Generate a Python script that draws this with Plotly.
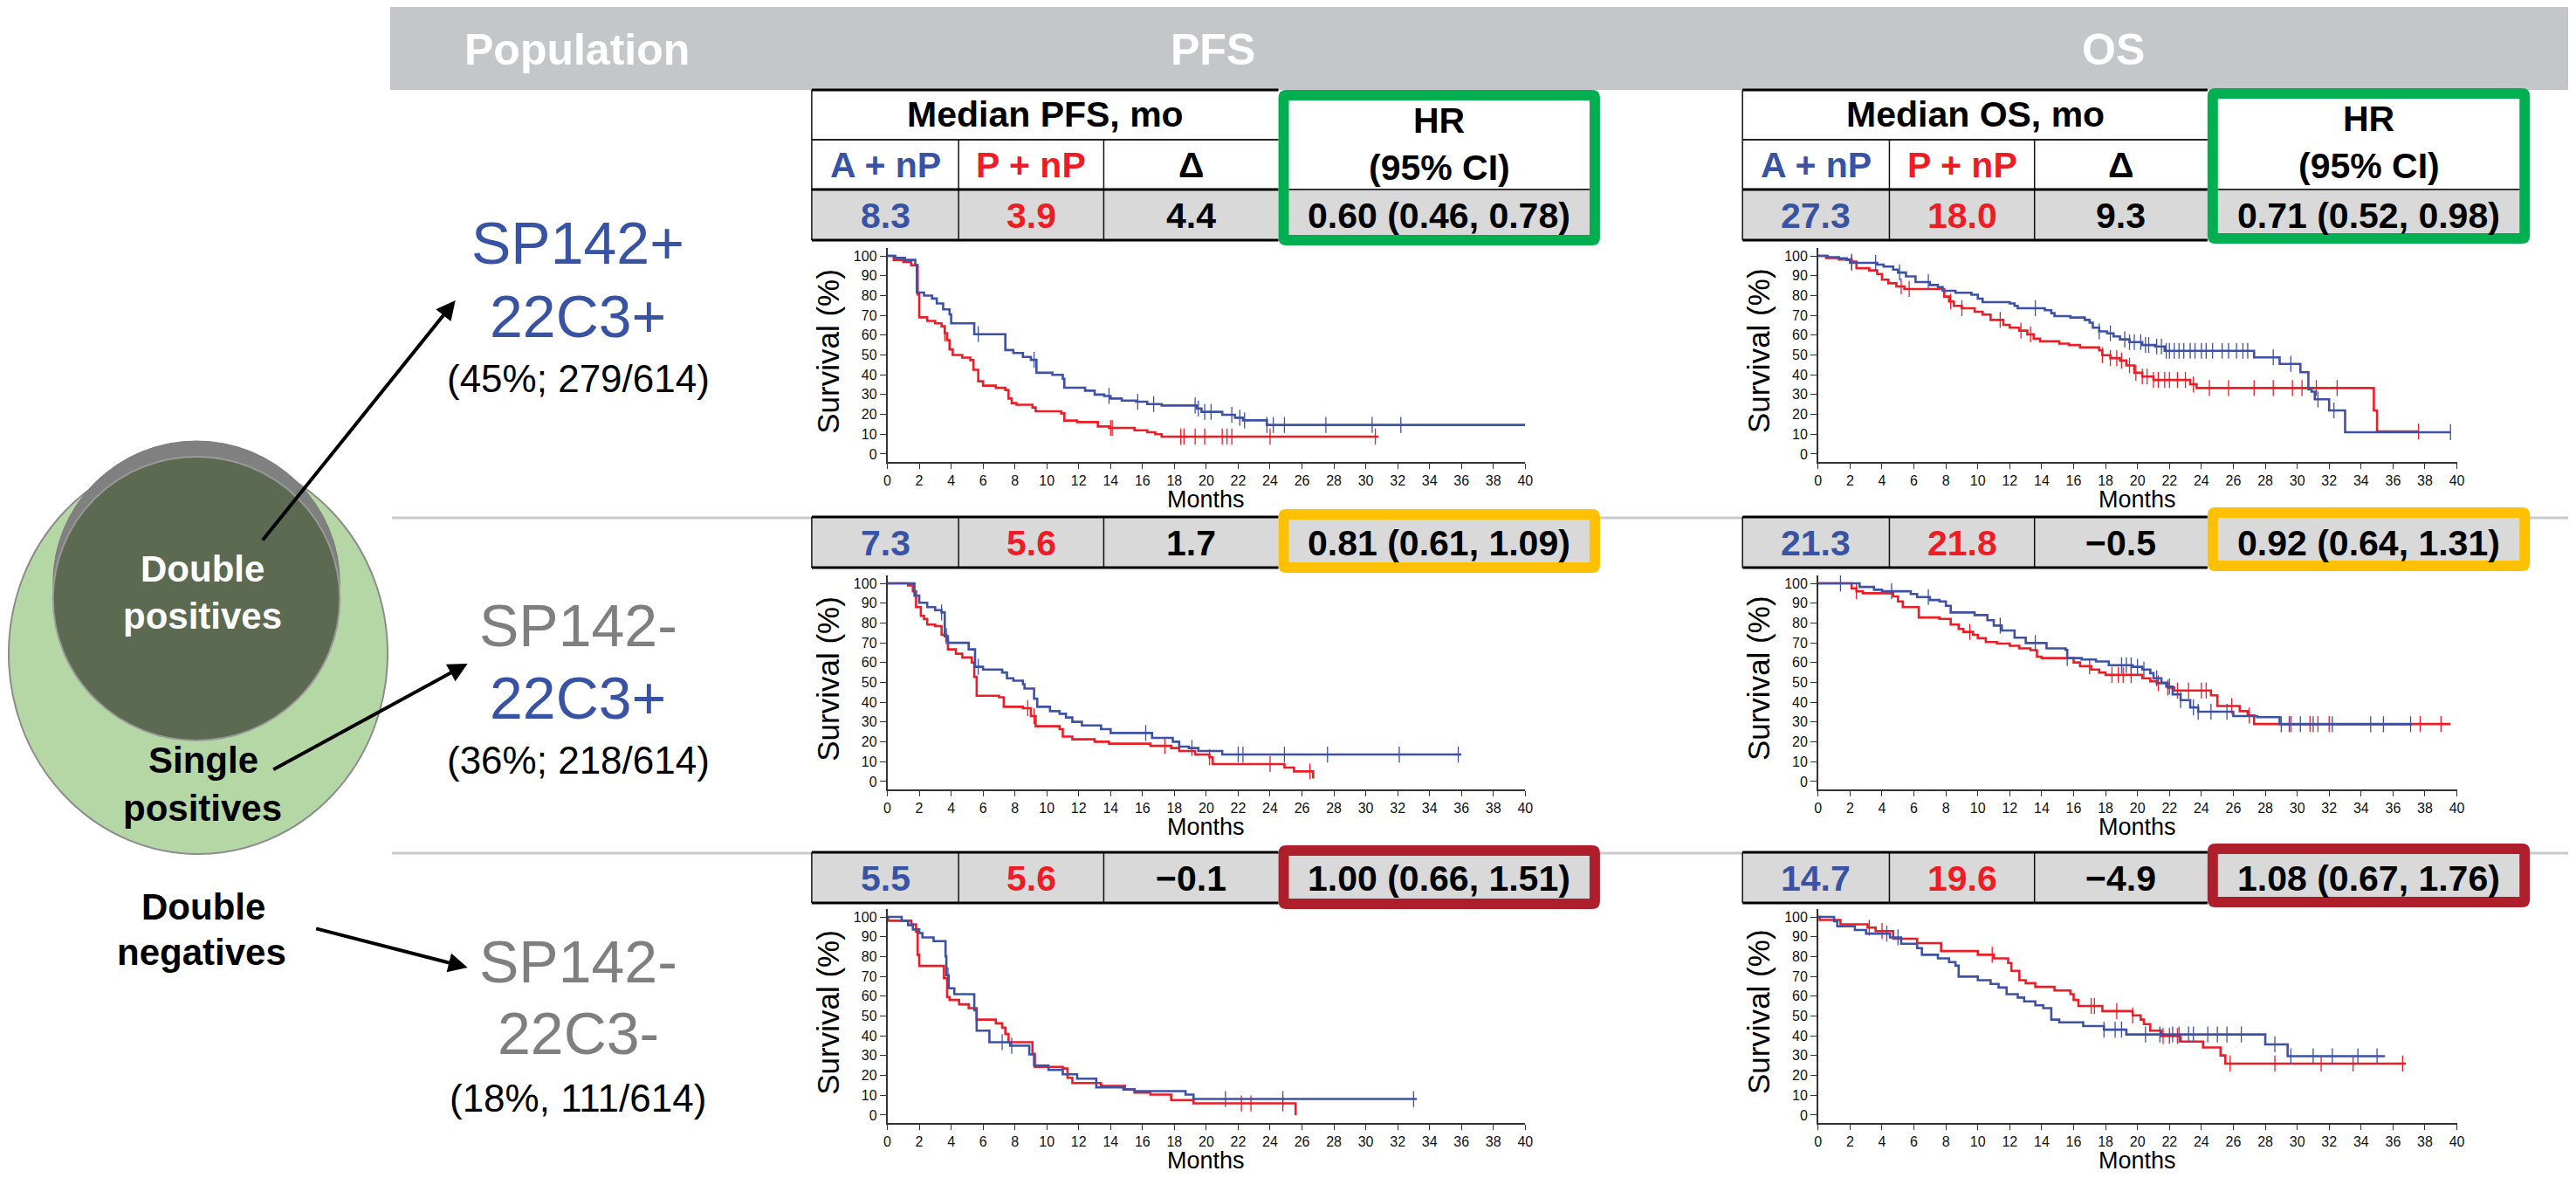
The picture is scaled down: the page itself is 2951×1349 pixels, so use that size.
import plotly.graph_objects as go

W, H = 2951, 1349
FONT = "Liberation Sans, Arial, Helvetica, sans-serif"

# ---------------- population labels ----------------
pop_line1 = ["SP142+", "SP142-", "SP142-"]
pop_line2 = ["22C3+", "22C3+", "22C3-"]
pop_share = ["(45%; 279/614)", "(36%; 218/614)", "(18%, 111/614)"]

# ---------------- medians (months), differences, hazard ratios ----------------
pfs_median_anp = [8.3, 7.3, 5.5]
pfs_median_pnp = [3.9, 5.6, 5.6]
pfs_delta = [4.4, 1.7, -0.1]
pfs_hr = [0.60, 0.81, 1.00]
pfs_hr_low = [0.46, 0.61, 0.66]
pfs_hr_high = [0.78, 1.09, 1.51]

os_median_anp = [27.3, 21.3, 14.7]
os_median_pnp = [18.0, 21.8, 19.6]
os_delta = [9.3, -0.5, -4.9]
os_hr = [0.71, 0.92, 1.08]
os_hr_low = [0.52, 0.64, 0.67]
os_hr_high = [0.98, 1.31, 1.76]

month_ticks = list(range(0, 41, 2))
survival_ticks = list(range(0, 101, 10))

# ---------------- Kaplan-Meier curves: step times, survival (%), censor times ----------------
# SP142+/22C3+  PFS
dp_pfs_anp_t = [0, 0.5, 1.1, 1.75, 1.85, 2.3, 2.8, 3.1, 3.5, 3.9, 4.0, 5.45, 7.4, 7.9, 8.5, 9.0, 9.35, 10.35,
                11.0, 11.1, 12.4, 13.0, 13.6, 14.0, 14.7, 15.6, 16.3, 17.2, 19.4, 19.7, 21.0, 21.8, 22.3, 23.8, 40.0]
dp_pfs_anp_s = [100, 99, 98, 95.5, 81.5, 80, 78.5, 76, 73, 70.5, 66, 60.5, 52.5, 51, 49, 47.5, 41, 40,
                38, 33.5, 32, 30, 29.3, 28, 27, 26.4, 25.2, 24.5, 23, 21.3, 19.8, 18.3, 17, 14.7, 14.7]
dp_pfs_anp_c = [5.7, 9.2, 13.9, 15.7, 16.7, 19.3, 19.5, 19.9, 20.3, 21.6, 22.1, 22.4, 23.8, 24.2, 24.9,
                27.5, 30.4, 32.2]
dp_pfs_pnp_t = [0, 0.4, 1.0, 1.5, 1.9, 2.0, 2.5, 3.0, 3.4, 3.6, 3.75, 3.9, 4.1, 4.7, 5.2, 5.4, 5.7, 6.0, 6.8,
                7.4, 7.6, 7.8, 8.1, 9.1, 9.3, 10.9, 11.1, 11.9, 13.2, 13.9, 15.5, 16.3, 16.8, 17.2, 30.8]
dp_pfs_pnp_s = [100, 98, 97, 95.3, 80.6, 69, 67.2, 66, 64.5, 61, 57.5, 52.8, 50, 48.7, 47.4, 42.5, 36.7, 34.5,
                33.4, 32.3, 28, 25.7, 24.9, 23.5, 21.6, 20.5, 16.9, 16.1, 13.9, 13.2, 12, 11, 10, 8.8, 8.8]
dp_pfs_pnp_c = [3.6, 14.0, 14.1, 18.4, 18.6, 19.3, 19.9, 21.0, 21.3, 21.6, 24.0, 30.6]

# SP142+/22C3+  OS
dp_os_anp_t = [0, 0.6, 1.3, 1.8, 2.0, 3.7, 4.1, 4.7, 5.0, 5.5, 6.1, 7.0, 7.5, 7.8, 8.6, 9.6, 10.0, 10.3, 12.0,
               12.3, 12.5, 14.2, 14.6, 14.8, 15.8, 16.7, 17.0, 17.2, 17.6, 18.1, 18.5, 18.9, 19.5, 20.3, 21.1,
               21.7, 27.3, 28.9, 30.2, 30.7, 30.9, 31.1, 32.0, 33.0, 39.6]
dp_os_anp_s = [100, 99.3, 98.8, 98, 96.5, 95.6, 94.6, 93.1, 91.6, 89.7, 86.8, 85.3, 84.3, 82.4, 81.4, 80.4,
               78.4, 76.7, 76, 74.8, 73.6, 72.6, 71.1, 69.6, 68.9, 67.7, 66.3, 63.8, 61.9, 60.9, 59.4, 57.9,
               56.5, 55, 54.3, 52.1, 48.8, 45.5, 41.3, 32.7, 31.5, 27.6, 22, 11, 11]
dp_os_anp_c = [2.1, 3.6, 5.1, 6.9, 13.6, 17.6, 18.3, 19.2, 19.5, 19.8, 20.2, 20.5, 20.7, 21.2, 21.5, 21.8,
               22.0, 22.3, 22.6, 22.9, 23.3, 23.6, 24.0, 24.3, 24.7, 25.3, 25.7, 26.2, 26.6, 26.9, 28.5, 29.6,
               31.3, 32.3, 39.6]
dp_os_pnp_t = [0, 0.5, 1.3, 2.1, 2.4, 3.2, 3.7, 4.0, 4.4, 4.9, 5.4, 7.9, 8.2, 8.5, 9.0, 9.8, 10.3, 10.8, 11.6,
               12.0, 12.6, 13.1, 13.5, 13.9, 15.1, 15.7, 16.4, 17.6, 17.8, 18.3, 18.9, 19.3, 19.8, 20.3, 21.0,
               23.3, 23.7, 34.8, 35.0, 37.6]
dp_os_pnp_s = [100, 99, 98.2, 97.1, 93.8, 92.7, 90.9, 88, 86.2, 84.6, 83.3, 79.5, 77, 74.8, 73.6, 71.8, 70.4,
               67.7, 65.2, 63.8, 62.3, 60.4, 58.2, 56.9, 55.7, 55, 53.8, 52.3, 49.9, 48.4, 47.2, 44.7, 41,
               39.1, 37.4, 35.2, 33.3, 22, 11.4, 11.4]
dp_os_pnp_c = [2.1, 5.2, 5.7, 8.3, 9.0, 11.4, 12.7, 13.3, 17.8, 18.3, 18.7, 19.0, 19.5, 19.9, 20.3, 20.6,
               21.0, 21.3, 21.7, 22.0, 22.5, 23.0, 23.5, 24.5, 25.7, 27.3, 28.5, 29.7, 30.3, 31.2, 32.5, 37.6]

# SP142-/22C3+  PFS
sp_pfs_anp_t = [0, 1.7, 2.0, 2.5, 3.0, 3.4, 3.6, 3.8, 5.1, 5.5, 6.0, 7.2, 7.5, 7.9, 8.5, 8.6, 9.2, 9.4, 10.2,
                10.8, 11.2, 11.6, 12.2, 13.4, 14.0, 16.6, 17.9, 18.3, 18.9, 19.5, 21.0, 36.0]
sp_pfs_anp_s = [100, 93.8, 90.2, 88, 86.5, 85.3, 73.3, 70, 66.7, 57.9, 56.5, 55, 52.1, 50.9, 49.1, 46.9, 41.8,
                37.7, 35.5, 34.2, 32.3, 30.1, 28.3, 26.4, 24.5, 22, 20.1, 17.6, 16.9, 15.4, 13.6, 13.6]
sp_pfs_anp_c = [3.4, 3.7, 5.7, 16.2, 19.1, 22.0, 22.3, 24.9, 27.6, 32.1, 35.8]
sp_pfs_pnp_t = [0, 1.3, 1.6, 1.8, 2.1, 2.3, 2.5, 3.0, 3.4, 3.7, 3.8, 4.3, 4.7, 5.3, 5.45, 5.6, 7.0, 7.3, 8.5,
                9.0, 9.3, 10.8, 11.0, 11.6, 13.0, 13.9, 16.5, 17.8, 18.3, 19.3, 20.2, 20.4, 24.9, 25.5, 26.7]
sp_pfs_pnp_s = [100, 99, 96, 88, 83.6, 82, 79.2, 78.4, 74, 71, 66.7, 64.5, 62.6, 60.1, 52.8, 43.3, 42.5, 37.7,
                37, 33, 27.9, 26.4, 22.7, 21.3, 20.1, 19.1, 18, 16.9, 15.4, 13.6, 12.2, 8.8, 7, 5.1, 1.5]
sp_pfs_pnp_c = [8.8, 9.2, 17.4, 20.2, 24.0, 26.5]

# SP142-/22C3+  OS
sp_os_anp_t = [0, 2.6, 3.5, 4.0, 5.8, 6.2, 7.0, 7.6, 8.0, 8.3, 9.8, 10.6, 11.0, 11.5, 12.3, 13.0, 14.3, 15.5,
               15.6, 16.5, 17.4, 18.2, 19.7, 20.3, 20.8, 21.0, 21.5, 21.8, 22.2, 22.7, 23.3, 23.8, 26.0, 27.5,
               28.9, 37.2]
sp_os_anp_s = [100, 98.2, 96.8, 96, 94.6, 93.1, 91.6, 90.9, 88.7, 85.3, 84, 81.4, 78.7, 76.2, 72.6, 69.9,
               67.2, 66.4, 62.3, 61.6, 60.6, 58.7, 57.9, 56.5, 54.7, 52.1, 49.9, 47.9, 44, 41.1, 37.4, 35.2,
               33, 32.5, 28.9, 28.9]
sp_os_anp_c = [1.4, 4.6, 6.9, 11.4, 13.6, 15.6, 19.0, 19.3, 19.6, 20.0, 20.4, 21.2, 22.0, 22.7, 23.5, 23.8,
               24.6, 25.6, 29.0, 29.5, 30.2, 31.0, 32.2, 34.6, 35.4, 37.1]
sp_os_pnp_t = [0, 2.1, 2.4, 2.8, 4.7, 5.0, 5.3, 6.3, 7.6, 8.3, 8.8, 9.1, 9.7, 10.0, 10.5, 11.2, 12.0, 12.6,
               13.3, 13.7, 14.0, 16.0, 16.4, 17.1, 17.6, 18.0, 20.3, 20.8, 21.2, 21.9, 22.3, 24.6, 25.0, 26.4,
               26.9, 27.3, 39.6]
sp_os_pnp_s = [100, 97.5, 96, 95, 93.4, 90.9, 88, 82.8, 82.1, 79.2, 77, 75.5, 74, 72.3, 70.4, 69.6, 68.5,
               67.2, 66.3, 63, 62.3, 60.1, 58.2, 56.5, 55, 53.8, 52.1, 50.6, 49.6, 47.4, 45.9, 43.5, 38.1,
               35.5, 33.3, 29, 29]
sp_os_pnp_c = [2.4, 9.5, 17.0, 18.4, 18.8, 19.1, 19.6, 21.3, 21.9, 22.5, 23.2, 24.0, 24.3, 25.9, 27.0, 29.6,
               30.8, 31.3, 32.0, 37.7, 39.0]

# SP142-/22C3-  PFS
dn_pfs_anp_t = [0, 0.9, 1.3, 1.6, 2.0, 2.2, 2.9, 3.65, 3.7, 3.85, 4.2, 5.45, 5.6, 6.4, 7.7, 8.9, 9.2, 10.1,
                11.0, 11.9, 13.1, 14.8, 15.5, 18.7, 19.2, 33.2]
dn_pfs_anp_s = [100, 98.1, 95.9, 93.7, 91.9, 89.7, 87.8, 80.1, 70.6, 64, 61, 52.9, 42.6, 36.8, 35, 30.6, 25,
                22.8, 20.6, 18.4, 14, 12.9, 12.1, 10.3, 8.1, 8.1]
dn_pfs_anp_c = [3.8, 7.2, 7.8, 21.2, 24.8, 33.0]
dn_pfs_pnp_t = [0, 0.05, 1.5, 1.8, 1.9, 2.0, 3.55, 3.75, 3.9, 4.5, 5.1, 5.6, 6.8, 7.2, 7.4, 7.6, 9.1, 9.25,
                11.0, 11.3, 11.6, 13.4, 14.9, 15.5, 16.5, 17.8, 19.2, 25.6]
dn_pfs_pnp_s = [100, 98.1, 96.3, 92.6, 80.9, 75.3, 69.1, 59.6, 58.1, 55.9, 54, 48.2, 46.3, 44.1, 40.9, 36.8,
                30.9, 24.3, 23.5, 18.8, 16.2, 14.7, 12.9, 11.3, 10.3, 7.6, 5.9, 0]
dn_pfs_pnp_c = [22.2, 22.8, 24.8]

# SP142-/22C3-  OS
dn_os_anp_t = [0, 1.0, 1.2, 2.3, 3.0, 4.5, 5.2, 6.2, 6.5, 7.5, 8.2, 8.6, 8.8, 10.0, 10.8, 11.3, 11.8, 12.5,
               12.9, 13.6, 14.1, 14.6, 15.1, 16.6, 17.9, 19.3, 28.0, 29.4, 35.5]
dn_os_anp_s = [100, 97.8, 95.3, 93.4, 91.6, 89.7, 86.5, 84.3, 80.9, 79.1, 77.2, 75.4, 69.9, 68.1, 66.2, 64.4,
               61, 59.3, 57.4, 55.4, 54, 48.2, 46.8, 44.9, 43.1, 40.7, 35.7, 29.7, 29.7]
dn_os_anp_c = [4.3, 5.0, 17.9, 18.6, 19.0, 20.5, 21.4, 22.2, 22.6, 23.2, 23.5, 24.4, 25.0, 25.6, 26.5, 28.6,
               29.6, 31.0, 32.2, 33.8, 35.0]
dn_os_pnp_t = [0, 0.1, 1.4, 3.1, 3.6, 4.7, 6.2, 7.7, 10.0, 11.0, 11.9, 12.1, 12.6, 13.0, 13.6, 14.8, 15.8,
               16.0, 16.3, 17.8, 19.7, 20.2, 20.4, 20.8, 21.5, 22.7, 24.1, 25.2, 25.5, 36.8]
dn_os_pnp_s = [100, 98.5, 96.3, 94.6, 92.9, 89.0, 86.8, 82.8, 80.9, 79.1, 76.8, 72.8, 68.1, 66.6, 64.7, 62.9,
               61, 58.1, 55.1, 52.5, 50.3, 48.2, 45.9, 42.6, 39.9, 37.1, 34.1, 30.1, 26, 26]
dn_os_pnp_c = [3.2, 4.0, 10.9, 17.1, 17.3, 18.7, 19.7, 21.6, 22.0, 22.5, 25.8, 28.6, 31.5, 33.5, 36.6]

# ---------------- styles ----------------
BLUE_TXT = "#3953A4"
RED_TXT = "#EE1C25"
GREY_TXT = "#7F7F7F"
LINE_BLUE = "#3D52A6"
LINE_RED = "#EC1D25"
CELL_GREY = "#D9D9D9"
HEADER_GREY = "#C4C7CA"
BOX_COLORS = ["#00B050", "#FFC000", "#AE1E2B"]


def X(px):
    return px / W


def Y(py):
    return 1 - py / H


def fmt(v):
    return f"{v:.1f}".replace("-", "\u2212")


shapes = []
annotations = []


def rect(x0, y0, x1, y1, fill, line_color=None, line_width=0):
    shapes.append(dict(type="rect", xref="paper", yref="paper", x0=X(x0), x1=X(x1), y0=Y(y1), y1=Y(y0),
                       fillcolor=fill, line=dict(color=line_color or fill, width=line_width)))


def hline(x0, x1, y, color="#111111", width=2):
    shapes.append(dict(type="line", xref="paper", yref="paper", x0=X(x0), x1=X(x1), y0=Y(y), y1=Y(y),
                       line=dict(color=color, width=width)))


def vline(x, y0, y1, color="#111111", width=1.5):
    shapes.append(dict(type="line", xref="paper", yref="paper", x0=X(x), x1=X(x), y0=Y(y0), y1=Y(y1),
                       line=dict(color=color, width=width)))


def rounded_box(x0, y0, x1, y1, r, fill):
    p = (f"M {X(x0 + r)},{Y(y0)} L {X(x1 - r)},{Y(y0)} Q {X(x1)},{Y(y0)} {X(x1)},{Y(y0 + r)} "
         f"L {X(x1)},{Y(y1 - r)} Q {X(x1)},{Y(y1)} {X(x1 - r)},{Y(y1)} "
         f"L {X(x0 + r)},{Y(y1)} Q {X(x0)},{Y(y1)} {X(x0)},{Y(y1 - r)} "
         f"L {X(x0)},{Y(y0 + r)} Q {X(x0)},{Y(y0)} {X(x0 + r)},{Y(y0)} Z")
    shapes.append(dict(type="path", xref="paper", yref="paper", path=p, fillcolor=fill,
                       line=dict(color=fill, width=0)))


def ellipse(x0, y0, x1, y1, fill, line_color, line_width=2):
    shapes.append(dict(type="circle", xref="paper", yref="paper", x0=X(x0), x1=X(x1), y0=Y(y1), y1=Y(y0),
                       fillcolor=fill, line=dict(color=line_color, width=line_width)))


def text(x, y, s, size, color="#000000", bold=False, angle=0):
    annotations.append(dict(x=X(x), y=Y(y), xref="paper", yref="paper",
                            text=f"<b>{s}</b>" if bold else s, showarrow=False,
                            font=dict(family=FONT, size=size, color=color),
                            xanchor="center", yanchor="middle", textangle=angle))


def arrow(tail, head):
    annotations.append(dict(x=X(head[0]), y=Y(head[1]), xref="paper", yref="paper", text="",
                            showarrow=True, ax=tail[0] - head[0], ay=tail[1] - head[1],
                            axref="pixel", ayref="pixel", arrowhead=2, arrowsize=1.1,
                            arrowwidth=4, arrowcolor="#000000", standoff=0, startstandoff=0))


# ---------------- header band and row separators ----------------
rect(445, 8, W, 103, HEADER_GREY)
text(660, 57, "Population", 50, "#FFFFFF", bold=True)
text(1392, 57, "PFS", 50, "#FFFFFF", bold=True)
text(2428, 57, "OS", 50, "#FFFFFF", bold=True)
hline(447, W, 593, "#C8CBCE", 3)
hline(447, W, 977, "#C8CBCE", 3)

# ---------------- Venn diagram ----------------
ellipse(6, 519, 442, 978, "#B5D6A5", "#8C8C8C", 2)
ellipse(57, 505, 387, 830, "#808080", "#7A7A7A", 1)
ellipse(57, 523, 387, 848, "#5D6A52", "#9A9A9A", 2)
text(229, 651, "Double", 42, "#FFFFFF", bold=True)
text(229, 705, "positives", 42, "#FFFFFF", bold=True)
text(230, 871, "Single", 42, bold=True)
text(229, 925, "positives", 42, bold=True)
text(230, 1038, "Double", 42, bold=True)
text(228, 1090, "negatives", 42, bold=True)
arrow((298, 620), (520, 344))
arrow((310, 882), (534, 760))
arrow((359, 1063), (534, 1108))

# ---------------- population labels ----------------
label_rows = [(278, 362, 433), (716, 799, 871), (1101, 1183, 1257)]
line1_colors = [BLUE_TXT, GREY_TXT, GREY_TXT]
line2_colors = [BLUE_TXT, BLUE_TXT, GREY_TXT]
for i, (y1, y2, y3) in enumerate(label_rows):
    text(661, y1, pop_line1[i], 68, line1_colors[i])
    text(661, y2, pop_line2[i], 68, line2_colors[i])
    text(661, y3, pop_share[i], 44)

# ---------------- summary tables ----------------
PFS_COLS = [930, 1099, 1266, 1467, 1837]
OS_COLS = [2001, 2170, 2337, 2536, 2907]
row_geom = [  # (header top or None, data top, data bottom, box top, box bottom)
    (103, 217, 275, 103, 281),
    (None, 592, 650, 583, 656),
    (None, 976, 1034, 968, 1041),
]
BORDER = 12


def draw_table(cols, i, title, a_val, p_val, d_val, hr, lo, hi, box_shift=0):
    c0, c1, c2, c3, c4 = cols
    head_top, d0, d1, b0, b1 = row_geom[i]
    b0 += box_shift
    b1 += box_shift
    rect(c0, d0, c3, d1, CELL_GREY)
    if head_top is not None:
        sub = head_top + 57
        hline(c0, c3, head_top, "#000000", 3)
        hline(c0, c3, sub, "#222222", 2)
        vline(c0, head_top, d1)
        vline(c1, sub, d1)
        vline(c2, sub, d1)
        text((c0 + c3) / 2, head_top + 28, title, 41, bold=True)
        text((c0 + c1) / 2, sub + 29, "A + nP", 41, BLUE_TXT, bold=True)
        text((c1 + c2) / 2, sub + 29, "P + nP", 41, RED_TXT, bold=True)
        text((c2 + c3) / 2, sub + 29, "\u0394", 41, bold=True)
    else:
        vline(c0, d0, d1)
        vline(c1, d0, d1)
        vline(c2, d0, d1)
    hline(c0, c3, d0, "#000000", 3)
    hline(c0, c3, d1, "#000000", 3)
    ym = (d0 + d1) / 2 + 1
    text((c0 + c1) / 2, ym, fmt(a_val), 41, BLUE_TXT, bold=True)
    text((c1 + c2) / 2, ym, fmt(p_val), 41, RED_TXT, bold=True)
    text((c2 + c3) / 2, ym, fmt(d_val), 41, bold=True)
    # hazard-ratio cell with coloured frame
    rounded_box(c3, b0, c4, b1, 9, BOX_COLORS[i])
    if head_top is not None:
        rect(c3 + BORDER, b0 + BORDER, c4 - BORDER, d0, "#FFFFFF")
        rect(c3 + BORDER, d0, c4 - BORDER, b1 - BORDER, CELL_GREY)
        hline(c3 + BORDER, c4 - BORDER, d0, "#333333", 2)
        text((c3 + c4) / 2, b0 + 35, "HR", 41, bold=True)
        text((c3 + c4) / 2, b0 + 89, "(95% CI)", 41, bold=True)
    else:
        rect(c3 + BORDER, b0 + BORDER, c4 - BORDER, b1 - BORDER, CELL_GREY)
    text((c3 + c4) / 2, ym, f"{hr:.2f} ({lo:.2f}, {hi:.2f})", 41, bold=True)


for i in range(3):
    draw_table(PFS_COLS, i, "Median PFS, mo", pfs_median_anp[i], pfs_median_pnp[i], pfs_delta[i],
               pfs_hr[i], pfs_hr_low[i], pfs_hr_high[i])
    draw_table(OS_COLS, i, "Median OS, mo", os_median_anp[i], os_median_pnp[i], os_delta[i],
               os_hr[i], os_hr_low[i], os_hr_high[i], box_shift=-2)

# ---------------- Kaplan-Meier panels ----------------
panels = [
    (dp_pfs_anp_t, dp_pfs_anp_s, dp_pfs_anp_c, dp_pfs_pnp_t, dp_pfs_pnp_s, dp_pfs_pnp_c),
    (dp_os_anp_t, dp_os_anp_s, dp_os_anp_c, dp_os_pnp_t, dp_os_pnp_s, dp_os_pnp_c),
    (sp_pfs_anp_t, sp_pfs_anp_s, sp_pfs_anp_c, sp_pfs_pnp_t, sp_pfs_pnp_s, sp_pfs_pnp_c),
    (sp_os_anp_t, sp_os_anp_s, sp_os_anp_c, sp_os_pnp_t, sp_os_pnp_s, sp_os_pnp_c),
    (dn_pfs_anp_t, dn_pfs_anp_s, dn_pfs_anp_c, dn_pfs_pnp_t, dn_pfs_pnp_s, dn_pfs_pnp_c),
    (dn_os_anp_t, dn_os_anp_s, dn_os_anp_c, dn_os_pnp_t, dn_os_pnp_s, dn_os_pnp_c),
]
col_px = [(1017, 1751), (2088, 2823)]
row_px = [(284, 529), (659, 904), (1041, 1286)]  # top (104 %) and bottom (-4 %) of each panel


def surv_at(times, surv, t):
    v = surv[0]
    for ti, si in zip(times, surv):
        if ti <= t:
            v = si
        else:
            break
    return v


fig = go.Figure()
layout_axes = {}
for k, (at, as_, ac, pt, ps, pc) in enumerate(panels):
    r, c = divmod(k, 2)
    xa = "x" if k == 0 else f"x{k + 1}"
    ya = "y" if k == 0 else f"y{k + 1}"
    for t, s, cens, col in ((pt, ps, pc, LINE_RED), (at, as_, ac, LINE_BLUE)):
        fig.add_trace(go.Scatter(x=t, y=s, mode="lines", line=dict(color=col, width=2.6, shape="hv"),
                                 xaxis=xa, yaxis=ya, hoverinfo="skip"))
        fig.add_trace(go.Scatter(x=cens, y=[surv_at(t, s, v) for v in cens], mode="markers",
                                 marker=dict(symbol="line-ns", size=13, line=dict(color=col, width=1.3)),
                                 xaxis=xa, yaxis=ya, hoverinfo="skip"))
    x0p, x1p = col_px[c]
    y0p, y1p = row_px[r]
    xkey = "xaxis" if k == 0 else f"xaxis{k + 1}"
    ykey = "yaxis" if k == 0 else f"yaxis{k + 1}"
    layout_axes[xkey] = dict(domain=[X(x0p), X(x1p)], range=[0, 40], anchor=ya, tickmode="array",
                             tickvals=month_ticks, ticktext=[str(v) for v in month_ticks], ticks="outside",
                             ticklen=6, tickwidth=1.2, tickcolor="#333333", showline=True, linecolor="#333333",
                             linewidth=1.5, showgrid=False, zeroline=False,
                             tickfont=dict(family=FONT, size=16, color="#111111"))
    layout_axes[ykey] = dict(domain=[Y(y1p), Y(y0p)], range=[-4, 104], anchor=xa, tickmode="array",
                             tickvals=survival_ticks, ticktext=[str(v) for v in survival_ticks],
                             ticks="outside", ticklen=7, tickwidth=1.2, tickcolor="#333333", showline=True,
                             linecolor="#333333", linewidth=1.5, showgrid=False, zeroline=False,
                             tickfont=dict(family=FONT, size=16, color="#111111"))
    # axis titles
    text((x0p + x1p) / 2, y1p + 43, "Months", 27)
    text(x0p - 69, y0p + 118, "Survival (%)", 35, angle=-90)

fig.update_layout(width=W, height=H, margin=dict(l=0, r=0, t=0, b=0), autosize=False,
                  paper_bgcolor="#FFFFFF", plot_bgcolor="rgba(0,0,0,0)", showlegend=False,
                  shapes=shapes, annotations=annotations, font=dict(family=FONT), **layout_axes)

fig.write_html("out.html")
